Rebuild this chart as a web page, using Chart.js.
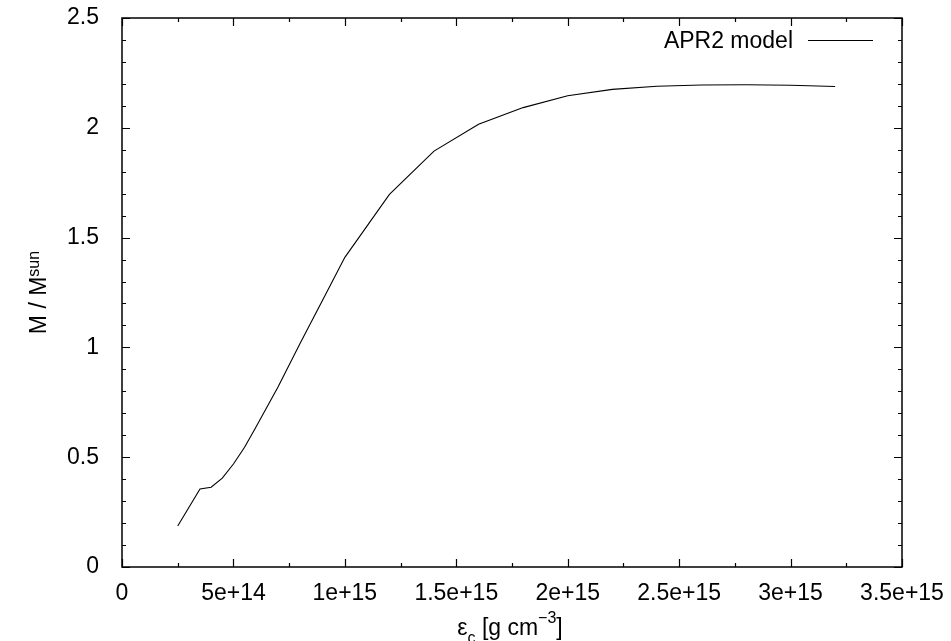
<!DOCTYPE html>
<html>
<head>
<meta charset="utf-8">
<script src="https://cdn.jsdelivr.net/npm/chart.js@4/dist/chart.umd.min.js"></script>
<style>
  html, body { margin: 0; padding: 0; background: #fff; }
  #c { display: block; }
</style>
</head>
<body>
<canvas id="c" width="951" height="641"></canvas>
<script>
// ---- data ----
const seriesName = "APR2 model";
const energyDensity = [2.5e14, 3.5e14, 4e14, 4.5e14, 5e14, 5.5e14, 6e14, 7e14, 8e14, 9e14, 1e15,
  1.2e15, 1.4e15, 1.6e15, 1.8e15, 2e15, 2.2e15, 2.4e15, 2.6e15, 2.8e15, 3e15, 3.2e15];
const massRatio = [0.187, 0.355, 0.363, 0.405, 0.469, 0.545, 0.635, 0.82, 1.02, 1.215, 1.41,
  1.697, 1.894, 2.016, 2.092, 2.146, 2.175, 2.189, 2.195, 2.196, 2.194, 2.188];
const xTickLabels = ["0", "5e+14", "1e+15", "1.5e+15", "2e+15", "2.5e+15", "3e+15", "3.5e+15"];
const yTickLabels = ["0", "0.5", "1", "1.5", "2", "2.5"];
const xRange = [0, 3.5e15], xMajor = 5e14, xMinor = 2.5e14;
const yRange = [0, 2.5], yMajor = 0.5, yMinor = 0.1;

const FONT = "'Liberation Sans', Arial, Helvetica, sans-serif";
const TICK_PX = 23;

const points = energyDensity.map((x, i) => ({ x: x, y: massRatio[i] }));

const framePlugin = {
  id: 'gnuplotFrame',
  afterDatasetsDraw(chart) {
    const ctx = chart.ctx;
    const a = chart.chartArea;
    const xs = chart.scales.x, ys = chart.scales.y;
    ctx.save();
    ctx.strokeStyle = '#000';
    ctx.lineWidth = 1.5;
    ctx.strokeRect(a.left, a.top, a.right - a.left, a.bottom - a.top);
    ctx.lineWidth = 1.2;
    ctx.beginPath();
    const nx = Math.round((xRange[1] - xRange[0]) / xMinor);
    for (let i = 0; i <= nx; i++) {
      const v = xRange[0] + i * xMinor;
      const px = Math.round(xs.getPixelForValue(v)) + 0.5;
      const major = Math.abs(v / xMajor - Math.round(v / xMajor)) < 1e-6;
      const len = major ? 8 : 4;
      ctx.moveTo(px, a.bottom); ctx.lineTo(px, a.bottom - len);
      ctx.moveTo(px, a.top); ctx.lineTo(px, a.top + len);
    }
    const ny = Math.round((yRange[1] - yRange[0]) / yMinor);
    for (let i = 0; i <= ny; i++) {
      const v = yRange[0] + i * yMinor;
      const py = Math.round(ys.getPixelForValue(v)) + 0.5;
      const major = Math.abs(v / yMajor - Math.round(v / yMajor)) < 1e-6;
      const len = major ? 8 : 4;
      ctx.moveTo(a.left, py); ctx.lineTo(a.left + len, py);
      ctx.moveTo(a.right, py); ctx.lineTo(a.right - len, py);
    }
    ctx.stroke();

    // legend (gnuplot style, top right)
    ctx.fillStyle = '#000';
    ctx.font = `${TICK_PX}px ${FONT}`;
    ctx.textAlign = 'right';
    ctx.textBaseline = 'alphabetic';
    ctx.fillText(seriesName, 793, 48);
    ctx.lineWidth = 1;
    ctx.beginPath();
    ctx.moveTo(808, 40.5); ctx.lineTo(873, 40.5);
    ctx.stroke();

    // x-axis title: ε_c [g cm^-3]
    const big = `${TICK_PX}px ${FONT}`, small = `16px ${FONT}`;
    const parts = [
      { t: 'ε', f: big, dy: 0 },
      { t: 'c', f: small, dy: 8 },
      { t: ' [g cm', f: big, dy: 0 },
      { t: '−3', f: small, dy: -12 },
      { t: ']', f: big, dy: 0 }
    ];
    let total = 0;
    parts.forEach(p => { ctx.font = p.f; p.w = ctx.measureText(p.t).width; total += p.w; });
    let cx = (a.left + a.right) / 2 - 2 - total / 2;
    const base = 635;
    ctx.textAlign = 'left';
    parts.forEach(p => { ctx.font = p.f; ctx.fillText(p.t, cx, base + p.dy); cx += p.w; });

    // y-axis title: M / M_sun
    const yparts = [
      { t: 'M / M', f: big, dy: 0 },
      { t: 'sun', f: small, dy: -7 }
    ];
    total = 0;
    yparts.forEach(p => { ctx.font = p.f; p.w = ctx.measureText(p.t).width; total += p.w; });
    ctx.save();
    ctx.translate(46, (a.top + a.bottom) / 2);
    ctx.rotate(-Math.PI / 2);
    let tx = -total / 2;
    yparts.forEach(p => { ctx.font = p.f; ctx.fillText(p.t, tx, p.dy); tx += p.w; });
    ctx.restore();
    ctx.restore();
  }
};

new Chart(document.getElementById('c'), {
  type: 'line',
  data: {
    datasets: [{
      label: seriesName,
      data: points,
      borderColor: '#000',
      borderWidth: 1.1,
      pointRadius: 0,
      fill: false,
      tension: 0
    }]
  },
  options: {
    responsive: false,
    animation: false,
    devicePixelRatio: 1,
    layout: { padding: { left: 0, right: 49, top: 18, bottom: 0 } },
    plugins: { legend: { display: false }, tooltip: { enabled: false } },
    scales: {
      x: {
        type: 'linear',
        min: xRange[0], max: xRange[1],
        grid: { display: false },
        border: { display: false },
        afterBuildTicks(scale) {
          scale.ticks = xTickLabels.map((_, i) => ({ value: xRange[0] + i * xMajor }));
        },
        afterFit(scale) {
          scale.height = 74;
          scale.paddingLeft = 0; scale.paddingRight = 0;
        },
        ticks: {
          padding: 5,
          color: '#000',
          maxRotation: 0,
          autoSkip: false,
          font: { family: FONT, size: TICK_PX },
          callback(value, index) { return xTickLabels[index]; }
        }
      },
      y: {
        type: 'linear',
        min: yRange[0], max: yRange[1],
        grid: { display: false },
        border: { display: false },
        afterBuildTicks(scale) {
          scale.ticks = yTickLabels.map((_, i) => ({ value: yRange[0] + i * yMajor }));
        },
        afterFit(scale) {
          scale.width = 122;
          scale.paddingTop = 0; scale.paddingBottom = 0;
        },
        ticks: {
          padding: 15,
          color: '#000',
          autoSkip: false,
          font: { family: FONT, size: TICK_PX },
          callback(value, index) { return yTickLabels[index]; }
        }
      }
    }
  },
  plugins: [framePlugin]
});
</script>
</body>
</html>
